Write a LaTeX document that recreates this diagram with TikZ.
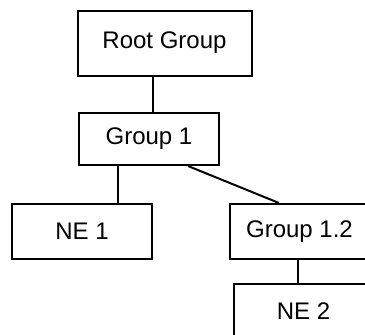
\documentclass[tikz,border=0pt]{standalone}
\usepackage{fontspec}
\setmainfont{Liberation Sans}
\usetikzlibrary{positioning}
\tikzset{
    every picture/.style={font=\fontsize{24}{28}\selectfont},
    grpbox/.style={draw=black, line width=2pt, fill=white, inner sep=0pt, align=center, minimum width=140pt, minimum height=55pt},
    link/.style={draw=black, line width=2pt}
}
\begin{document}
\begin{tikzpicture}[x=1pt, y=-1pt]
\useasboundingbox (0,0) rectangle (365,335);
\node[grpbox, minimum width=174pt, minimum height=65pt] (root) at (164.5,43) {Root Group};
\node[grpbox, minimum height=52pt] (g1) at (149,139) {Group 1};
\node[grpbox] (ne1) at (82,231.5) {NE 1};
\node[grpbox] (g12) at (299.5,231.5) {Group 1.2};
\node[grpbox] (ne2) at (303.5,311.5) {NE 2};
\draw[link] ([xshift=4pt]g1.north) -- ([xshift=4pt]g1.north |- root.south);
\draw[link] ([xshift=-31pt]g1.south) -- ([xshift=-31pt]g1.south |- ne1.north);
\draw[link] ([xshift=39pt]g1.south) -- ([xshift=-20.5pt]g12.north);
\draw[link] ([xshift=-1.5pt]g12.south) -- ([xshift=-1.5pt]g12.south |- ne2.north);
\end{tikzpicture}
\end{document}
